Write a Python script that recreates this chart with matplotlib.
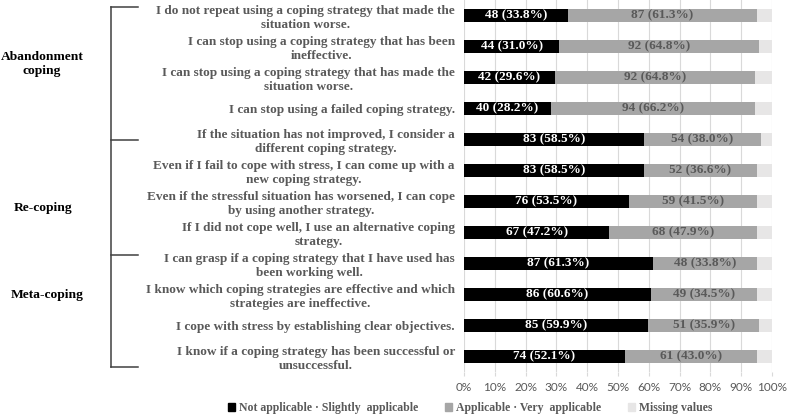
import matplotlib
matplotlib.use("Agg")
import matplotlib.pyplot as plt
from matplotlib.patches import Patch
from matplotlib.lines import Line2D
import numpy as np

items = [
    "I do not repeat using a coping strategy that made the\nsituation worse.",
    "I can stop using a coping strategy that has been\nineffective.",
    "I can stop using a coping strategy that has made the\nsituation worse.",
    "I can stop using a failed coping strategy.",
    "If the situation has not improved, I consider a\ndifferent coping strategy.",
    "Even if I fail to cope with stress, I can come up with a\nnew coping strategy.",
    "Even if the stressful situation has worsened, I can cope\nby using another strategy.",
    "If I did not cope well, I use an alternative coping\nstrategy.",
    "I can grasp if a coping strategy that I have used has\nbeen working well.",
    "I know which coping strategies are effective and which\nstrategies are ineffective.",
    "I cope with stress by establishing clear objectives.",
    "I know if a coping strategy has been successful or\nunsuccessful.",
]
not_applicable = [48, 44, 42, 40, 83, 83, 76, 67, 87, 86, 85, 74]
applicable = [87, 92, 92, 94, 54, 52, 59, 68, 48, 49, 51, 61]
total_n = 142
groups = ["Abandonment\ncoping", "Re-coping", "Meta-coping"]
legend_labels = ["Not applicable \u00b7 Slightly  applicable",
                 "Applicable \u00b7 Very  applicable",
                 "Missing values"]
xticks = list(range(0, 101, 10))

W, H = 787, 418
fig = plt.figure(figsize=(W / 100, H / 100), dpi=100)
ax = fig.add_axes([464 / W, 1 - 372 / H, (772 - 464) / W, 372 / H])

serif = ["Liberation Serif", "DejaVu Serif"]
c_black, c_gray, c_light = "#000000", "#a6a6a6", "#e7e6e6"
txt_gray = "#595959"

na = np.array(not_applicable, float)
ap = np.array(applicable, float)
miss = total_n - na - ap
p_na = na / total_n * 100
p_ap = ap / total_n * 100
p_mi = miss / total_n * 100

y = np.arange(len(items))
bh = 0.41
ax.barh(y, p_na, height=bh, color=c_black, zorder=3)
ax.barh(y, p_ap, left=p_na, height=bh, color=c_gray, zorder=3)
ax.barh(y, p_mi, left=p_na + p_ap, height=bh, color=c_light, zorder=3)

for i in range(len(items)):
    ax.text(p_na[i] / 2, y[i], f"{int(na[i])} ({p_na[i]:.1f}%)", ha="center", va="center",
            color="white", fontsize=9.5, fontweight="bold", family=serif, zorder=4)
    ax.text(p_na[i] + p_ap[i] / 2, y[i], f"{int(ap[i])} ({p_ap[i]:.1f}%)", ha="center", va="center",
            color=txt_gray, fontsize=9.5, fontweight="bold", family=serif, zorder=4)

ax.set_ylim(len(items) - 0.5, -0.5)
ax.set_xlim(0, 100)
ax.set_xticks(xticks)
ax.set_xticklabels([f"{t}%" for t in xticks], color=txt_gray, fontsize=8.5, family="Lato")
ax.set_yticks(y)
ax.set_yticklabels(items, fontsize=9.5, fontweight="bold", color=txt_gray, family=serif,
                   multialignment="center")
ax.tick_params(axis="y", length=0, pad=6.5)
ax.tick_params(axis="x", length=3, color="#d9d9d9", pad=4)
ax.grid(axis="x", color="#d9d9d9", linewidth=0.8, zorder=0)
for s in ax.spines.values():
    s.set_visible(False)

# bracket
def fl(x0, y0, x1, y1):
    fig.add_artist(Line2D([x0 / W, x1 / W], [1 - y0 / H, 1 - y1 / H], color="#404040",
                          linewidth=1.1, transform=fig.transFigure))

fl(111, 7, 111, 367)
for yy in [7, 140, 255, 367]:
    fl(111, yy, 138, yy)

for g, (gx, gy) in zip(groups, [(42, 64), (43, 208), (47, 295)]):
    fig.text(gx / W, 1 - gy / H, g, ha="center", va="center", fontsize=9.7,
             fontweight="bold", family=serif, color="black", multialignment="center")

handles = [Patch(color=c_black), Patch(color=c_gray), Patch(color=c_light)]
leg = fig.legend(handles, legend_labels, loc="center", bbox_to_anchor=(470 / W, 1 - 408 / H),
                 ncol=3, frameon=False, handlelength=0.6, handleheight=0.6, handletextpad=0.3,
                 columnspacing=2.3, prop={"family": serif, "weight": "bold", "size": 8.5})
for t in leg.get_texts():
    t.set_color(txt_gray)

fig.savefig("out.png", dpi=100)
